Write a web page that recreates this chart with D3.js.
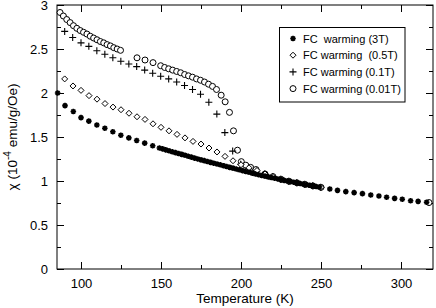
<!DOCTYPE html>
<html>
<head>
<meta charset="utf-8">
<script src="https://cdn.jsdelivr.net/npm/d3@7/dist/d3.min.js"></script>
<style>
	body { margin: 0; background: #fff; }
	text { font-family: "Liberation Sans", Arial, sans-serif; fill: #000; }
</style>
</head>
<body>
<svg id="chart" width="436" height="308"></svg>
<script>
// FC warming, 3T
var t3T = [85.4, 90, 95.2, 100, 104.9, 109.9, 114.9, 119.9, 124.9, 129.9, 134.8, 139.8, 144.8,
	149, 151, 153, 155, 157, 159, 161, 163, 165, 167, 169, 171, 173, 175, 177, 179, 181, 183,
	185, 187, 189, 191, 193, 195, 197, 199, 201, 203, 205, 207, 209, 211, 213, 215, 217, 219,
	221, 223, 225, 227, 229, 231, 233, 235, 237, 239, 241, 243, 245, 247, 249,
	255.5, 260.3, 265.5, 270.7, 275.9, 281.1, 286.2, 291, 296, 300.8, 306, 310.7, 316];
var chi3T = [2.00, 1.856, 1.79, 1.72, 1.68, 1.636, 1.60, 1.56, 1.52, 1.49, 1.46, 1.43, 1.40,
	1.375, 1.365, 1.354, 1.344, 1.333, 1.323, 1.312, 1.302, 1.292, 1.281, 1.271, 1.260, 1.250, 1.240, 1.231, 1.221, 1.212, 1.202,
	1.193, 1.184, 1.174, 1.165, 1.155, 1.146, 1.137, 1.127, 1.118, 1.108, 1.099, 1.090, 1.080, 1.071, 1.063, 1.055, 1.047, 1.039,
	1.031, 1.023, 1.015, 1.007, 1.000, 0.993, 0.986, 0.979, 0.972, 0.965, 0.958, 0.951, 0.944, 0.937, 0.931,
	0.909, 0.894, 0.879, 0.868, 0.856, 0.841, 0.830, 0.815, 0.803, 0.792, 0.776, 0.769, 0.758];

// FC warming, 0.5T
var t05T = [89.8, 95, 100, 105, 110, 115, 120, 125, 130, 135, 140, 145, 150, 155, 160, 165,
	170, 175, 180, 185, 190, 195, 200, 205, 210, 215, 220, 225, 230, 235, 240, 245, 250];
var chi05T = [2.16, 2.08, 2.03, 1.97, 1.93, 1.88, 1.84, 1.81, 1.77, 1.73, 1.70, 1.65, 1.61, 1.57, 1.53, 1.49,
	1.45, 1.42, 1.375, 1.33, 1.28, 1.23, 1.185, 1.15, 1.12, 1.08, 1.05, 1.017, 0.997, 0.979, 0.962, 0.944, 0.928];

// FC warming, 0.1T
var t01T = [89.8, 94.8, 100, 104.9, 109.9, 114.9, 119.9, 124.9, 129.9, 134.8, 139.8, 144.8,
	149.8, 154.8, 159.8, 164.7, 169.7, 174.7, 179.9, 184.9, 189.9, 194.8, 199.8, 204.8, 209.8,
	214.8, 219.8, 224.8, 229.8, 234.8, 239.8, 244.8, 249.8];
var chi01T = [2.70, 2.63, 2.57, 2.53, 2.48, 2.44, 2.40, 2.36, 2.33, 2.30, 2.26, 2.225,
	2.19, 2.16, 2.125, 2.085, 2.04, 1.985, 1.895, 1.76, 1.55, 1.34, 1.19, 1.145, 1.11,
	1.08, 1.05, 1.02, 0.998, 0.98, 0.962, 0.945, 0.929];

// FC warming, 0.01T
var t001T = [86.9, 89, 91.1, 93.2, 95.3, 97.4, 99.5, 101.6, 103.7, 105.8, 107.9, 110, 112.1, 114.2,
	116.3, 118.4, 120.5, 122.6, 124.7,
	135, 140, 145, 149.8, 152.3, 154.8, 157.3, 159.8, 162.3, 164.8, 167.2, 169.7, 172.2, 174.7,
	177.2, 179.7, 182.2, 184.7, 187.6, 190.1, 192.8, 195.3, 197.8, 200.2, 203, 206, 209.4,
	215, 220, 225, 230, 235, 240, 245, 250, 317.5];
var chi001T = [2.915, 2.875, 2.835, 2.80, 2.765, 2.735, 2.71, 2.69, 2.67, 2.645, 2.625, 2.605, 2.585, 2.57,
	2.55, 2.535, 2.515, 2.50, 2.485,
	2.40, 2.375, 2.345, 2.31, 2.29, 2.275, 2.26, 2.245, 2.23, 2.21, 2.195, 2.18, 2.16, 2.145,
	2.125, 2.10, 2.075, 2.04, 1.975, 1.90, 1.78, 1.57, 1.35, 1.22, 1.18, 1.155, 1.13,
	1.08, 1.05, 1.02, 0.997, 0.979, 0.962, 0.944, 0.928, 0.755];

var xMajor = [100, 150, 200, 250, 300];
var xMinor = [125, 175, 225, 275];
var yMajor = [0, 0.5, 1, 1.5, 2, 2.5, 3];
var yMinor = [0.25, 0.75, 1.25, 1.75, 2.25, 2.75];

var seriesNames = ["FC  warming (3T)", "FC warming  (0.5T)", "FC warming (0.1T)", "FC warming (0.01T)"];
var seriesSymbols = ["star", "diamond", "plus", "circle"];

var svg = d3.select("#chart");
var plotL = 57, plotR = 433, plotT = 5, plotB = 269;

var x = d3.scaleLinear().domain([85, 320]).range([plotL, plotR]);
var y = d3.scaleLinear().domain([0, 3]).range([plotB, plotT]);

// axes, ticks pointing inward
function drawAxis(axis, tx, ty, ticks, size, pad) {
	var g = svg.append("g")
		.attr("transform", "translate(" + tx + "," + ty + ")")
		.call(axis.tickValues(ticks).tickSize(-size).tickPadding(pad || 0)
			.tickFormat(pad ? function (d) { return String(d); } : function () { return ""; }));
	g.select(".domain").remove();
	g.selectAll("line").attr("stroke", "#000");
	g.selectAll("text").attr("font-size", 13).attr("font-family", "Liberation Sans, Arial, sans-serif");
	return g;
}

drawAxis(d3.axisBottom(x), 0, plotB, xMajor, 7, 10);
drawAxis(d3.axisBottom(x), 0, plotB, xMinor, 4);
drawAxis(d3.axisTop(x), 0, plotT, xMajor, 7);
drawAxis(d3.axisTop(x), 0, plotT, xMinor, 4);
drawAxis(d3.axisLeft(y), plotL, 0, yMajor, 7, 9);
drawAxis(d3.axisLeft(y), plotL, 0, yMinor, 4);
drawAxis(d3.axisRight(y), plotR, 0, yMajor, 7);
drawAxis(d3.axisRight(y), plotR, 0, yMinor, 4);

svg.append("rect")
	.attr("x", plotL).attr("y", plotT)
	.attr("width", plotR - plotL).attr("height", plotB - plotT)
	.attr("fill", "none").attr("stroke", "#000").attr("stroke-width", 1);

// axis titles
svg.append("text")
	.attr("x", (plotL + plotR) / 2).attr("y", 303)
	.attr("text-anchor", "middle").attr("font-size", 13.5)
	.text("Temperature (K)");

var yt = svg.append("text")
	.attr("transform", "translate(17," + ((plotT + plotB) / 2) + ") rotate(-90)")
	.attr("text-anchor", "middle").attr("font-size", 13.5);
yt.append("tspan").text("\u03c7 (10");
yt.append("tspan").attr("dy", -6).attr("font-size", 10).text("-4");
yt.append("tspan").attr("dy", 6).text(" emu/g/Oe)");

// markers
function marker(sel, kind) {
	if (kind === "star") {
		sel.append("path")
			.attr("d", "M-2.8,0H2.8M0,-2.8V2.8M-2,-2L2,2M-2,2L2,-2")
			.attr("stroke", "#000").attr("stroke-width", 1.6).attr("fill", "none");
	} else if (kind === "diamond") {
		sel.append("path")
			.attr("d", "M0,-3L3,0L0,3L-3,0Z")
			.attr("stroke", "#000").attr("stroke-width", 1).attr("fill", "#fff");
	} else if (kind === "plus") {
		sel.append("path")
			.attr("d", "M-3.5,0H3.5M0,-3.5V3.5")
			.attr("stroke", "#000").attr("stroke-width", 1.1).attr("fill", "none");
	} else {
		sel.append("circle").attr("r", 3)
			.attr("stroke", "#000").attr("stroke-width", 1).attr("fill", "#fff");
	}
}

function drawSeries(ts, vals, kind) {
	var pts = ts.map(function (t, i) { return [t, vals[i]]; });
	svg.append("g").selectAll("g")
		.data(pts).enter().append("g")
		.attr("transform", function (d) { return "translate(" + x(d[0]) + "," + y(d[1]) + ")"; })
		.each(function () { marker(d3.select(this), kind); });
}

drawSeries(t001T, chi001T, "circle");
drawSeries(t01T, chi01T, "plus");
drawSeries(t05T, chi05T, "diamond");
drawSeries(t3T, chi3T, "star");

// legend
var lg = svg.append("g");
lg.append("rect")
	.attr("x", 279.5).attr("y", 27.5).attr("width", 125.5).attr("height", 74.5)
	.attr("fill", "#fff").attr("stroke", "#000").attr("stroke-width", 1);
seriesNames.forEach(function (name, i) {
	var row = lg.append("g").attr("transform", "translate(0," + (38.5 + i * 16.7) + ")");
	var m = row.append("g").attr("transform", "translate(293,0)");
	marker(m, seriesSymbols[i]);
	row.append("text").attr("x", 303).attr("y", 4).attr("font-size", 11)
		.attr("xml:space", "preserve").style("white-space", "pre").text(name);
});
</script>
</body>
</html>
